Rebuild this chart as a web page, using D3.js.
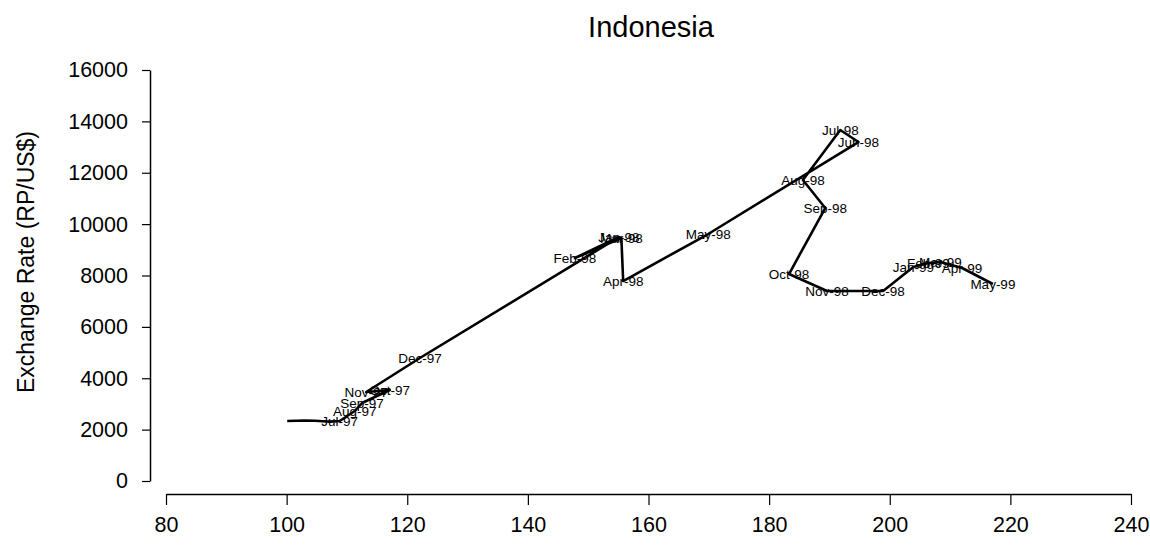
<!DOCTYPE html>
<html><head><meta charset="utf-8">
<script src="https://cdn.jsdelivr.net/npm/d3@7"></script>
<style>
body{margin:0;background:#fff;}
svg{display:block;font-family:"Liberation Sans",Arial,sans-serif;}
</style></head>
<body>
<svg id="chart" width="1150" height="552"></svg>
<script>
// Data
const months = ["Jan-97","Feb-97","Mar-97","Apr-97","May-97","Jun-97",
  "Jul-97","Aug-97","Sep-97","Oct-97","Nov-97","Dec-97",
  "Jan-98","Feb-98","Mar-98","Apr-98","May-98","Jun-98","Jul-98","Aug-98","Sep-98","Oct-98","Nov-98","Dec-98",
  "Jan-99","Feb-99","Mar-99","Apr-99","May-99"];
const showLabel = [false,false,false,false,false,false,
  true,true,true,true,true,true,
  true,true,true,true,true,true,true,true,true,true,true,true,
  true,true,true,true,true];
const priceIndex = [100.1,101.6,103.0,104.7,106.0,107.2,
  108.8,111.3,112.5,117.1,113.2,122.1,
  155.1,147.8,155.5,155.8,169.9,194.8,191.8,185.6,189.3,183.3,189.6,198.9,
  203.9,206.4,208.4,212.0,217.1];
const exchangeRate = [2335,2345,2350,2345,2325,2310,
  2335,2725,3036,3542,3464,4788,
  9498,8680,9459,7785,9615,13196,13663,11717,10627,8058,7396,7396,
  8330,8486,8525,8291,7668];
const xTicks = [80,100,120,140,160,180,200,220,240];
const yTicks = [0,2000,4000,6000,8000,10000,12000,14000,16000];
const title = "Indonesia";
const yTitle = "Exchange Rate (RP/US$)";

const pts = months.map((m,i)=>({m, show:showLabel[i], x:priceIndex[i], y:exchangeRate[i]}));

const svg = d3.select("#chart");
const x = d3.scaleLinear().domain([80,240]).range([166,1131]);
const y = d3.scaleLinear().domain([0,16000]).range([481,70]);

// Title
svg.append("text").attr("x",651).attr("y",37).attr("text-anchor","middle")
  .attr("font-size",29).attr("fill","#000").text(title);

// Y axis
const yAxis = svg.append("g").attr("transform","translate(150,0)")
  .call(d3.axisLeft(y).tickValues(yTicks).tickFormat(d3.format("d")).tickSize(8).tickSizeOuter(0).tickPadding(14));
yAxis.select(".domain").attr("stroke","#000").attr("stroke-width",1.5);
yAxis.selectAll(".tick line").attr("stroke","#000").attr("stroke-width",1.2);
yAxis.selectAll(".tick text").attr("font-size",21.5).attr("fill","#000")
  .attr("font-family","'Liberation Sans',Arial,sans-serif");

// X axis
const xAxis = svg.append("g").attr("transform","translate(0,494)")
  .call(d3.axisBottom(x).tickValues(xTicks).tickFormat(d3.format("d")).tickSize(11).tickSizeOuter(0).tickPadding(12));
xAxis.select(".domain").attr("stroke","#000").attr("stroke-width",1.5);
xAxis.selectAll(".tick line").attr("stroke","#000").attr("stroke-width",1.2);
xAxis.selectAll(".tick text").attr("font-size",21.5).attr("fill","#000")
  .attr("font-family","'Liberation Sans',Arial,sans-serif");

// Y axis title
svg.append("text").attr("transform","translate(34,262) rotate(-90)")
  .attr("text-anchor","middle").attr("font-size",23).attr("fill","#000").text(yTitle);

// Line
const line = d3.line().x(d=>x(d.x)).y(d=>y(d.y));
svg.append("path").datum(pts).attr("d",line)
  .attr("fill","none").attr("stroke","#000").attr("stroke-width",2.6).attr("stroke-linejoin","round");

// Labels
svg.append("g").selectAll("text").data(pts.filter(d=>d.show)).join("text")
  .attr("x",d=>x(d.x)).attr("y",d=>y(d.y)).attr("dy","0.36em")
  .attr("text-anchor","middle").attr("font-size",13.5).attr("fill","#000")
  .text(d=>d.m);
</script>
</body></html>
